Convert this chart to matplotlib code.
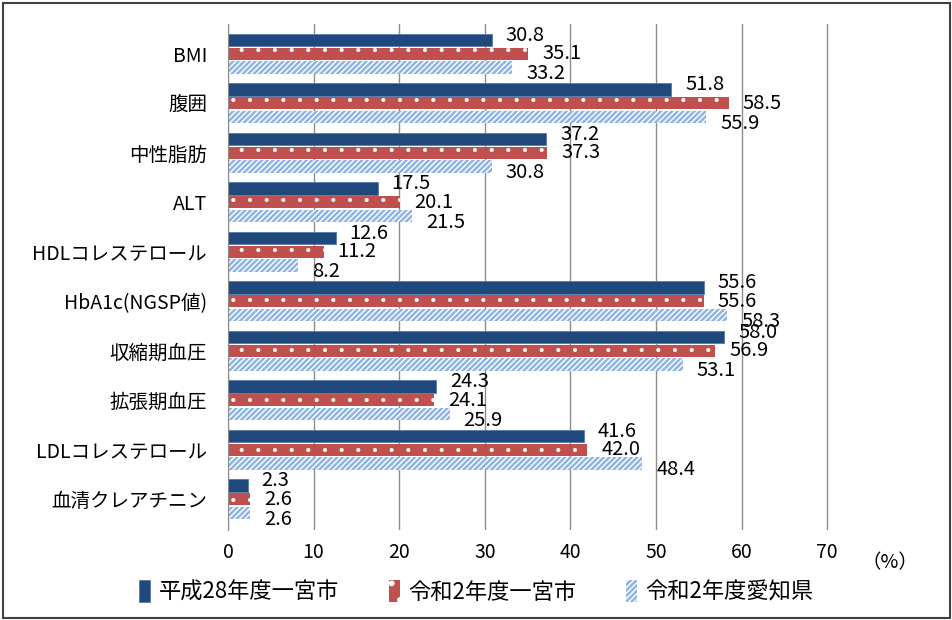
import matplotlib.pyplot as plt
from matplotlib.patches import Rectangle
import numpy as np

plt.rcParams['font.family'] = ['Noto Sans CJK JP', 'DejaVu Sans']

categories = ['BMI', '腹囲', '中性脂肪', 'ALT', 'HDLコレステロール', 'HbA1c(NGSP値)',
              '収縮期血圧', '拡張期血圧', 'LDLコレステロール', '血清クレアチニン']
h28_city = [30.8, 51.8, 37.2, 17.5, 12.6, 55.6, 58.0, 24.3, 41.6, 2.3]
r2_city = [35.1, 58.5, 37.3, 20.1, 11.2, 55.6, 56.9, 24.1, 42.0, 2.6]
r2_pref = [33.2, 55.9, 30.8, 21.5, 8.2, 58.3, 53.1, 25.9, 48.4, 2.6]
series_names = ['平成28年度一宮市', '令和2年度一宮市', '令和2年度愛知県']
xticks = [0, 10, 20, 30, 40, 50, 60, 70]

fig = plt.figure(figsize=(9.53, 6.2), dpi=100)
ax = fig.add_axes([0.2392, 0.1452, 0.6737, 0.8161])

y = np.arange(len(categories))
bh = 0.25
step = 0.275

b1 = ax.barh(y - step, h28_city, height=bh, color='#1F497D', edgecolor='#5A7AA8',
             lw=0.6, label=series_names[0], zorder=3)
plt.rcParams['hatch.linewidth'] = 0.5
b2 = ax.barh(y, r2_city, height=bh, color='#C0504D', edgecolor='white', hatch='.',
             lw=0, label=series_names[1], zorder=3)
plt.rcParams['hatch.linewidth'] = 1.8
b3 = ax.barh(y + step, r2_pref, height=bh, color='white', edgecolor='#8DB4E2', hatch='//////',
             lw=0, label=series_names[2], zorder=3)
for p in b2:
    if hasattr(p, 'set_hatch_linewidth'):
        p.set_hatch_linewidth(0.5)

# data labels, slightly spread apart like the original
for vals, off, dy in [(h28_city, -step, 3.6), (r2_city, 0, 0), (r2_pref, step, -4.5)]:
    for i, v in enumerate(vals):
        ax.annotate(f'{v:.1f}', (v, i + off), xytext=(10, dy), textcoords='offset points',
                    ha='left', va='center', fontsize=14.5, zorder=4)

ax.set_xlim(0, 75)
ax.set_ylim(9.62, -0.6)
ax.set_xticks(xticks)
ax.set_xticklabels([str(t) for t in xticks], fontsize=14)
ax.set_yticks(y)
ax.set_yticklabels(categories, fontsize=14)
ax.tick_params(axis='both', length=0)
ax.tick_params(axis='y', pad=15)
ax.tick_params(axis='x', pad=9)
ax.grid(axis='x', color='#8C8C8C', lw=1, zorder=0)
for s in ['top', 'right', 'bottom']:
    ax.spines[s].set_visible(False)
ax.spines['left'].set_color('#8C8C8C')
ax.spines['left'].set_zorder(5)

fig.text(0.934, 0.092, '（%）', fontsize=14, ha='center', va='center')

fig.legend(handles=[b1, b2, b3], labels=series_names, loc='center', ncol=3,
           bbox_to_anchor=(0.50, 0.045), frameon=False, fontsize=16,
           handlelength=0.5, handleheight=1.1, handletextpad=0.4, columnspacing=2.2)

fig.add_artist(Rectangle((0.003, 0.003), 0.994, 0.992, transform=fig.transFigure,
                         fill=False, edgecolor='#404040', lw=1.5))

fig.savefig('out.png', dpi=100)
